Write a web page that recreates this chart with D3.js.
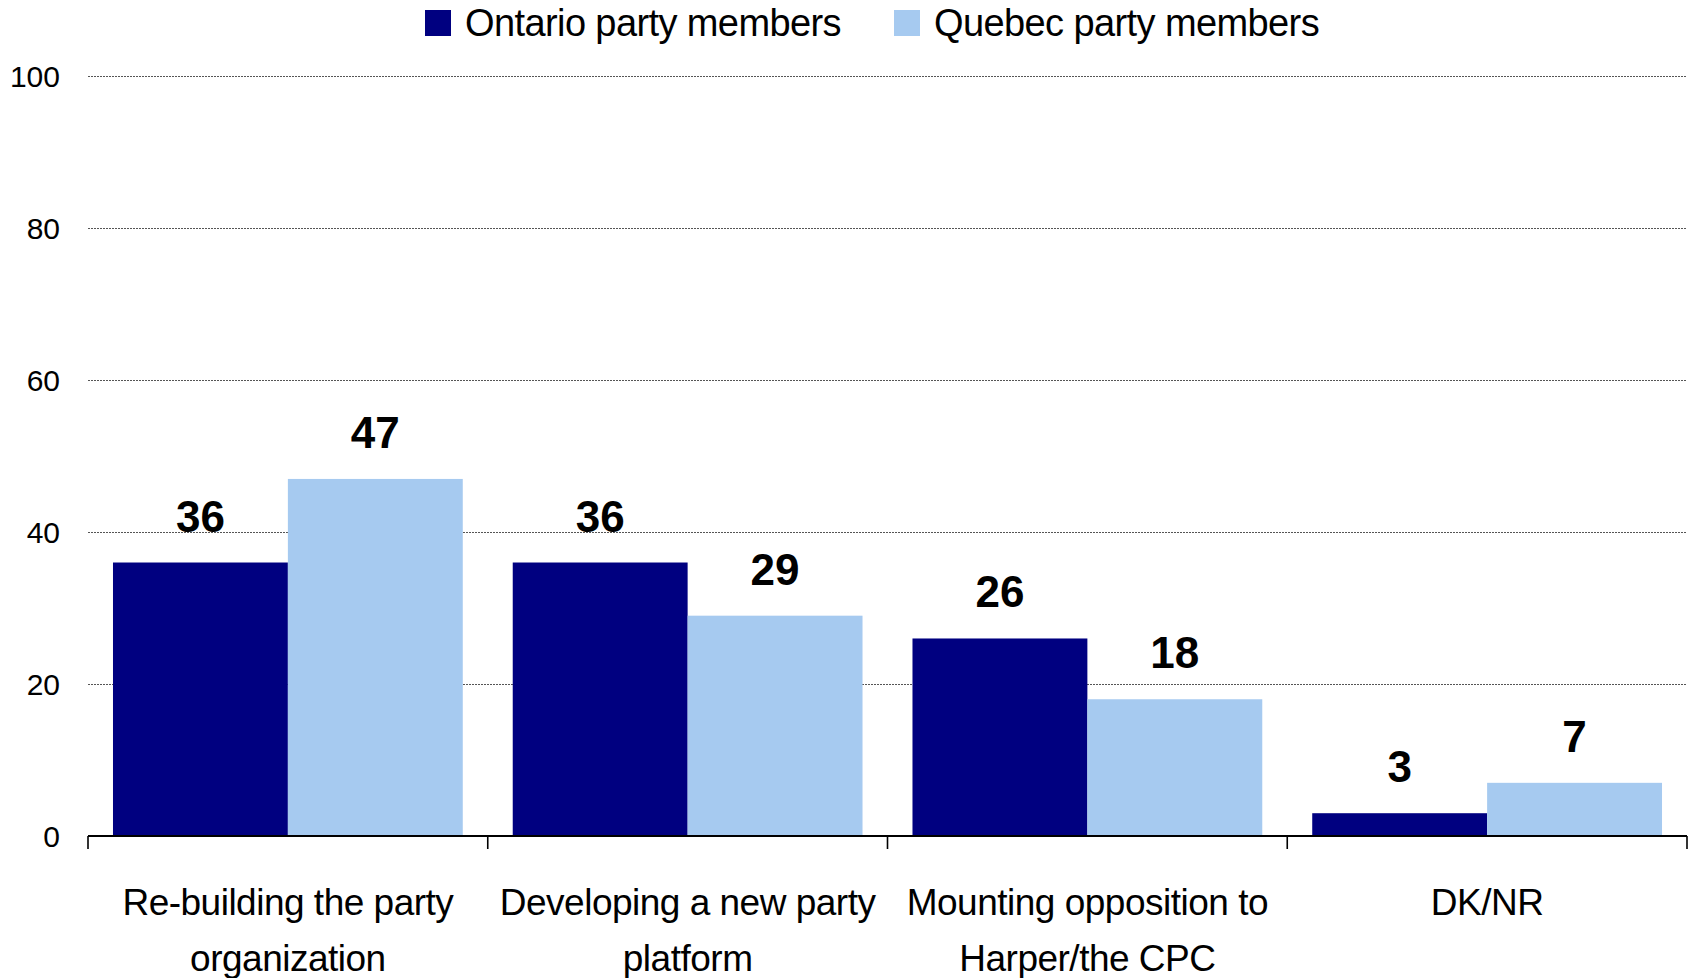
<!DOCTYPE html>
<html>
<head>
<meta charset="utf-8">
<script src="https://cdn.jsdelivr.net/npm/d3@7"></script>
<style>
  html, body { margin: 0; padding: 0; background: #fff; }
  svg { display: block; font-family: "Liberation Sans", Arial, sans-serif; }
</style>
</head>
<body>
<svg id="chart" width="1694" height="978"></svg>
<script>
const categories = [
  ["Re-building the party", "organization"],
  ["Developing a new party", "platform"],
  ["Mounting opposition to", "Harper/the CPC"],
  ["DK/NR"]
];
const seriesNames = ["Ontario party members", "Quebec party members"];
const ontario = [36, 36, 26, 3];
const quebec = [47, 29, 18, 7];
const yTicks = [0, 20, 40, 60, 80, 100];
const colors = ["#000080", "#A6CAF0"];

(function () {
const svg = d3.select("#chart");
const mLeft = 88, mRight = 1687, mTop = 76.3, mBottom = 836;

const catIdx = categories.map((d, i) => i);
const x = d3.scaleBand().domain(catIdx).range([mLeft, mRight]).paddingInner(0.125).paddingOuter(0.0625);
const xs = d3.scaleBand().domain([0, 1]).range([0, x.bandwidth()]);
const y = d3.scaleLinear().domain([0, 100]).range([mBottom, mTop]);

// gridlines
svg.append("g").selectAll("line").data(yTicks.filter(t => t > 0)).join("line")
  .attr("x1", mLeft).attr("x2", mRight)
  .attr("y1", d => Math.round(y(d)) + 0.5).attr("y2", d => Math.round(y(d)) + 0.5)
  .attr("stroke", "#555").attr("stroke-width", 1).attr("stroke-dasharray", "2,1");

// y tick labels
svg.append("g").selectAll("text").data(yTicks).join("text")
  .attr("x", 60).attr("y", d => y(d))
  .attr("dy", "0.36em")
  .attr("text-anchor", "end")
  .attr("font-size", 30)
  .attr("fill", "#000")
  .text(d => d);

// bars
const series = [ontario, quebec];
series.forEach((vals, s) => {
  svg.append("g").selectAll("rect").data(vals).join("rect")
    .attr("x", (d, i) => x(i) + xs(s))
    .attr("width", xs.bandwidth())
    .attr("y", d => y(d))
    .attr("height", d => y(0) - y(d))
    .attr("fill", colors[s]);
  svg.append("g").selectAll("text").data(vals).join("text")
    .attr("x", (d, i) => x(i) + xs(s) + xs.bandwidth() / 2)
    .attr("y", d => y(d) - 31)
    .attr("text-anchor", "middle")
    .attr("font-size", 44)
    .attr("font-weight", "bold")
    .attr("fill", "#000")
    .text(d => d);
});

// x axis line
svg.append("line")
  .attr("x1", mLeft).attr("x2", mRight)
  .attr("y1", mBottom).attr("y2", mBottom)
  .attr("stroke", "#000").attr("stroke-width", 2);

// group boundary ticks
const bounds = d3.range(categories.length + 1).map(i => mLeft + i * (mRight - mLeft) / categories.length);
svg.append("g").selectAll("line").data(bounds).join("line")
  .attr("x1", d => d).attr("x2", d => d)
  .attr("y1", mBottom).attr("y2", mBottom + 13)
  .attr("stroke", "#000").attr("stroke-width", 1.6);

// category labels
const catG = svg.append("g");
categories.forEach((lines, i) => {
  const cx = x(i) + x.bandwidth() / 2;
  const t = catG.append("text")
    .attr("x", cx).attr("y", 915)
    .attr("text-anchor", "middle")
    .attr("font-size", 37)
    .attr("letter-spacing", "-0.5px")
    .attr("fill", "#000");
  lines.forEach((ln, k) => {
    t.append("tspan").attr("x", cx).attr("y", 915 + k * 56).text(ln);
  });
});

// legend
const legendX = [425, 894];
const lg = svg.append("g");
seriesNames.forEach((name, s) => {
  lg.append("rect").attr("x", legendX[s]).attr("y", 10).attr("width", 26).attr("height", 26).attr("fill", colors[s]);
  lg.append("text").attr("x", legendX[s] + 40).attr("y", 36)
    .attr("font-size", 38).attr("letter-spacing", "-0.6px").attr("fill", "#000").text(name);
});
})();
</script>
</body>
</html>
